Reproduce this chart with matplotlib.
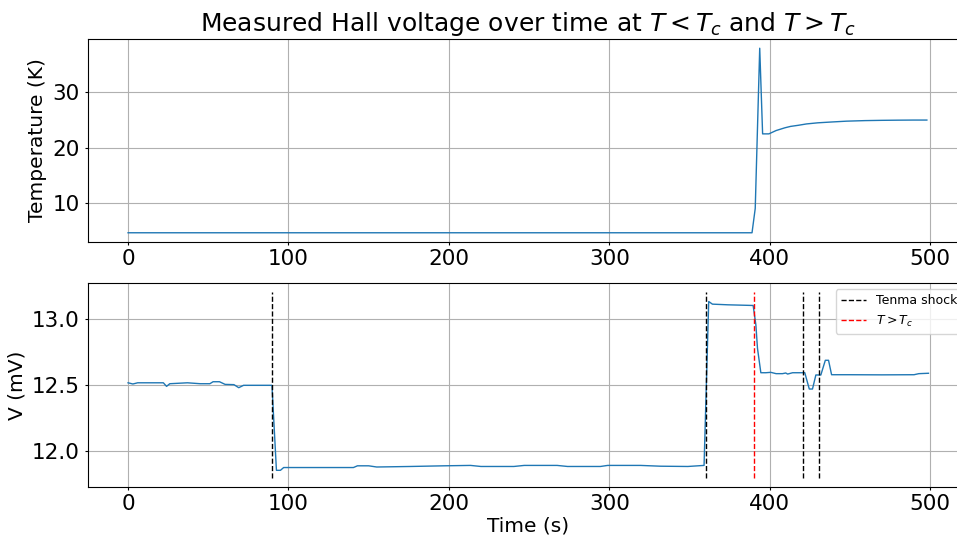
import matplotlib.pyplot as plt

# temperature log (s, K)
temp_time = [0, 389, 391, 393.8, 395.6, 399.5, 404, 409.5, 413, 417.8, 423, 430, 438.6, 448, 459.4, 470, 480, 490, 498]
temp_vals = [4.6, 4.6, 9.0, 38.0, 22.5, 22.5, 23.1, 23.6, 23.85, 24.05, 24.3, 24.5, 24.65, 24.8, 24.9, 24.95, 24.98, 25.0, 25.0]

# Hall voltage log (s, mV)
volt_time = [0, 3, 6, 22, 24, 26, 37, 45, 51, 53, 57, 60.5, 66, 69, 72, 89.7,
             92.5, 95, 97, 140.5, 143, 150, 155, 176, 197, 213.5, 220, 240.5, 247, 267.5,
             274, 294.5, 299, 319.5, 332, 349, 359.1,
             362, 364.3, 374, 389.7, 391.4, 392.4, 394.5, 397.6, 400.7, 404, 408, 410, 411.2, 414.3,
             421.9, 424.7, 426.7, 428.8, 431.9, 434.7, 436.7, 438.6, 450, 470, 490, 493, 499]
volt_vals = [12.517, 12.508, 12.517, 12.517, 12.49, 12.51, 12.517, 12.51, 12.51, 12.525, 12.525, 12.505, 12.503, 12.48, 12.498, 12.498,
             11.856, 11.856, 11.877, 11.877, 11.89, 11.89, 11.881, 11.885, 11.89, 11.893, 11.885, 11.885, 11.893, 11.893,
             11.885, 11.885, 11.893, 11.893, 11.887, 11.885, 11.893,
             13.131, 13.111, 13.106, 13.101, 12.955, 12.778, 12.593, 12.593, 12.596, 12.586, 12.586, 12.591, 12.583, 12.593,
             12.593, 12.47, 12.47, 12.576, 12.576, 12.687, 12.687, 12.578, 12.578, 12.577, 12.578, 12.586, 12.589]

shock_times = [90, 360, 421, 431]
tc_time = 390

fig = plt.figure(figsize=(9.57, 5.38), dpi=100)
ax1 = fig.add_axes([0.092, 0.5502, 0.92, 0.3773])
ax2 = fig.add_axes([0.092, 0.0948, 0.92, 0.379])

for ax in (ax1, ax2):
    ax.tick_params(labelsize=15.5, length=2.5)
    ax.tick_params(axis="x", pad=2.5)
    ax.tick_params(axis="y", pad=3.5)
    ax.grid()

ax1.plot(temp_time, temp_vals, lw=1)
ax1.set_ylabel("Temperature (K)", fontsize=14.5)
ax1.set_title("Measured Hall voltage over time at $T < T_c$ and $T > T_c$", fontsize=18)

ax2.plot(volt_time, volt_vals, lw=1)
for i, t in enumerate(shock_times):
    ax2.vlines(t, 11.8, 13.2, colors="k", linestyles="--", lw=1,
               label="Tenma shock" if i == 0 else None)
ax2.vlines(tc_time, 11.8, 13.2, colors="r", linestyles="--", lw=1, label="$T > T_c$")
ax2.set_xlabel("Time (s)", fontsize=14.5, labelpad=2)
ax2.set_ylabel("V (mV)", fontsize=14.5)
ax2.set_yticks([12.0, 12.5, 13.0])
ax2.legend(loc="upper right", fontsize=9)

ax1.set_xlim(ax2.get_xlim())

plt.savefig("out.png", dpi=100)
